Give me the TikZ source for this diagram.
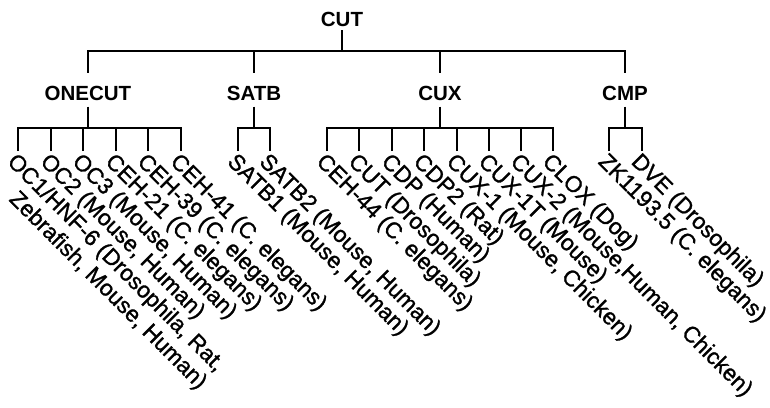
\documentclass[tikz,border=0pt]{standalone}
\usepackage{fontspec}
\setmainfont{Liberation Sans}
\newfontfamily\leaffont{Liberation Sans}[FakeBold=1.2]
\begin{document}
\begin{tikzpicture}[x=1pt,y=1pt,
  br/.style={line width=1.9pt},
  head/.style={font=\bfseries\fontsize{20.5}{24}\selectfont, inner sep=0pt, text height=15pt, text depth=0pt},
  leaf/.style={font=\leaffont\fontsize{22.7}{25}\selectfont, inner sep=0pt, rotate=-45, anchor=north west}]
\useasboundingbox[fill=white] (0,0) rectangle (770,-407);

% root
\node[head] (cut) at (342,-19) {CUT};
\coordinate (b0) at (342,-51);

% families
\node[head] (onecut) at (88,-92.5) {ONECUT};
\node[head] (satb) at (254,-92.5) {SATB};
\node[head] (cux) at (440,-92.5) {CUX};
\node[head] (cmp) at (625,-92.5) {CMP};

\draw[br] ([yshift=-3.5pt]cut.south) -- (b0);
\draw[br] ([yshift=12pt]onecut.north) -- (onecut |- b0) -- (cmp |- b0) -- ([yshift=12pt]cmp.north);
\draw[br] ([yshift=12pt]satb.north) -- (satb |- b0);
\draw[br] ([yshift=12pt]cux.north) -- (cux |- b0);

% bars
\coordinate (bo) at (88,-128);
\coordinate (bs) at (254,-128);
\coordinate (bc) at (440,-128);
\coordinate (bm) at (625,-128);

% ONECUT leaves
\node[leaf, align=right] (oc1) at (18,-151) {OC1/HNF-6 (Drosophila, Rat,\\Zebrafish, Mouse, Human)};
\node[leaf] (oc2) at (51,-151) {OC2 (Mouse, Human)};
\node[leaf] (oc3) at (83,-151) {OC3 (Mouse, Human)};
\node[leaf] (ceh21) at (116,-151) {CEH-21 (C. elegans)};
\node[leaf] (ceh39) at (148,-151) {CEH-39 (C. elegans)};
\node[leaf] (ceh41) at (181,-151) {CEH-41 (C. elegans)};

% SATB leaves
\node[leaf] (satb1) at (238,-151) {SATB1 (Mouse, Human)};
\node[leaf] (satb2) at (270,-151) {SATB2 (Mouse, Human)};

% CUX leaves
\node[leaf] (ceh44) at (327,-151) {CEH-44 (C. elegans)};
\node[leaf] (cutd) at (359,-151) {CUT (Drosophila)};
\node[leaf] (cdp) at (392,-151) {CDP (Human)};
\node[leaf] (cdp2) at (424,-151) {CDP2 (Rat)};
\node[leaf] (cux1) at (457,-151) {CUX-1 (Mouse, Chicken)};
\node[leaf] (cux1t) at (489,-151) {CUX-1T (Mouse)};
\node[leaf] (cux2) at (521,-151) {CUX-2 (Mouse,Human, Chicken)};
\node[leaf] (clox) at (553,-151) {CLOX (Dog)};

% CMP leaves
\node[leaf] (zk) at (609,-151) {ZK1193.5 (C. elegans)};
\node[leaf] (dve) at (642,-151) {DVE (Drosophila)};

% ONECUT subtree
\draw[br] ([yshift=-6.5pt]onecut.south) -- (bo);
\draw[br] (oc1.north west) -- (oc1.north west |- bo) -- (ceh41.north west |- bo) -- (ceh41.north west);
\foreach \n in {oc2,oc3,ceh21,ceh39} \draw[br] (\n.north west) -- (\n.north west |- bo);

% SATB subtree
\draw[br] ([yshift=-6.5pt]satb.south) -- (bs);
\draw[br] (satb1.north west) -- (satb1.north west |- bs) -- (satb2.north west |- bs) -- (satb2.north west);

% CUX subtree
\draw[br] ([yshift=-6.5pt]cux.south) -- (bc);
\draw[br] (ceh44.north west) -- (ceh44.north west |- bc) -- (clox.north west |- bc) -- (clox.north west);
\foreach \n in {cutd,cdp,cdp2,cux1,cux1t,cux2} \draw[br] (\n.north west) -- (\n.north west |- bc);

% CMP subtree
\draw[br] ([yshift=-6.5pt]cmp.south) -- (bm);
\draw[br] (zk.north west) -- (zk.north west |- bm) -- (dve.north west |- bm) -- (dve.north west);
\end{tikzpicture}
\end{document}
